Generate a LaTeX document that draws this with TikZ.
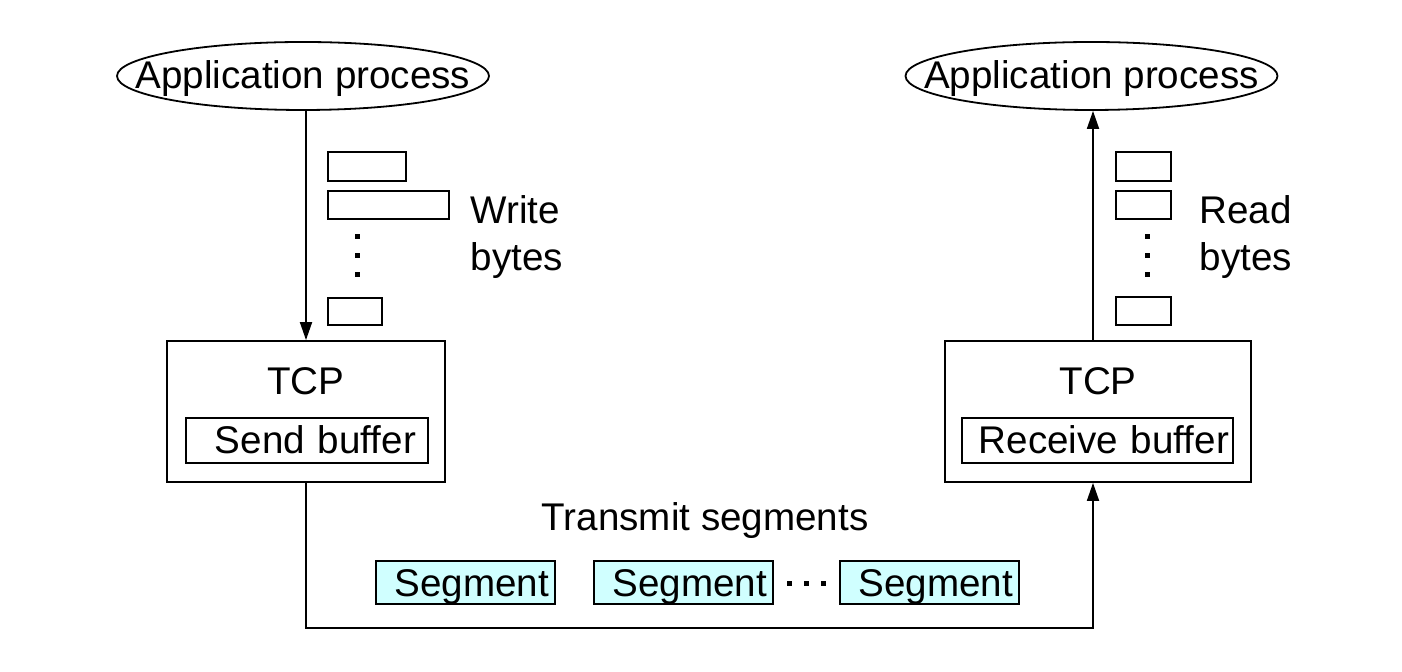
\documentclass[tikz,border=0pt]{standalone}
\usepackage{fontspec}
\setmainfont{Liberation Sans}
\usetikzlibrary{shapes.geometric, arrows.meta, positioning}
\definecolor{segcyan}{RGB}{208,255,255}
\tikzset{
        process/.style={ellipse, draw, minimum width=186pt, minimum height=34pt, inner sep=0pt},
        tcpbox/.style={rectangle, draw, minimum height=70.5pt},
        bufbox/.style={rectangle, draw, minimum height=22.5pt, inner ysep=0pt, text height=15pt, text depth=2pt, align=right},
        bytebox/.style={rectangle, draw, inner sep=0pt},
        segment/.style={rectangle, draw, fill=segcyan, minimum height=21.5pt, text width=83.5pt, text height=16pt, text depth=2pt, inner xsep=3pt, inner ysep=0pt, align=right},
        arrow/.style={-{Triangle[length=9pt, width=6pt]}},
    }
\begin{document}
\begin{tikzpicture}[x=0.5pt, y=-0.5pt, line width=0.9pt, font=\fontsize{19.3}{23.5}\selectfont]
        \useasboundingbox (0,0) rectangle (1402,672);

        % Application processes
        \node[process] (appL) at (303,76) {};
        \node (appLtext) at ([yshift=-1.5pt]appL.center) {Application process};
        \node[process] (appR) at (1091.5,76) {};
        \node (appRtext) at ([yshift=-1.5pt]appR.center) {Application process};

        % TCP boxes with buffers
        \node[tcpbox, minimum width=139pt] (tcpL) at (306,411.5) {};
        \node (tcpLname) at ([yshift=15pt]tcpL.center) {TCP};
        \node[bufbox, text width=109pt, inner xsep=6pt] (sendbuf) at (307,440.5) {Send buffer};
        \node[tcpbox, minimum width=153pt] (tcpR) at (1098,411.5) {};
        \node (tcpRname) at ([yshift=15pt]tcpR.center) {TCP};
        \node[bufbox, text width=131.5pt, inner xsep=2pt] (recvbuf) at (1097.5,440.5) {Receive buffer};

        % Bytes written and read
        \node[bytebox, minimum width=39pt, minimum height=14.5pt] (wb1) at (367,166.5) {};
        \node[bytebox, minimum width=60.5pt, minimum height=14pt] (wb2) at (388.5,205) {};
        \node[bytebox, minimum width=27pt, minimum height=13.5pt] (wb3) at (355,311.5) {};
        \node[bytebox, minimum width=27.5pt, minimum height=14.5pt] (rb1) at (1143.5,166.5) {};
        \node[bytebox, minimum width=27.5pt, minimum height=14pt] (rb2) at (1143.5,205) {};
        \node[bytebox, minimum width=27.5pt, minimum height=14pt] (rb3) at (1143.5,311) {};
        \foreach \y in {237,256,275} {
            \fill (354.5,\y-2.5) rectangle ++(5,5);
            \fill (1144.5,\y-2.5) rectangle ++(5,5);
        }
        \node[anchor=west, align=left] (writelbl) at (463,237) {Write\\bytes};
        \node[anchor=west, align=left] (readlbl) at (1192,237) {Read\\bytes};

        % Segments
        \node (transmit) at (705,521) {Transmit segments};
        \node[segment] (seg1) at (465.5,582.5) {Segment};
        \node[segment] (seg2) at (683.5,582.5) {Segment};
        \node[segment] (seg3) at (929.5,582.5) {Segment};
        \foreach \x in {789,806,823}
            \fill (\x-2.5,581.5) rectangle ++(5,5);

        % Connectors
        \draw[arrow] (appL.south -| tcpL.north) -- (tcpL.north);
        \draw[arrow] ([xshift=-2.5pt]tcpR.north) -- ([xshift=-2.5pt]tcpR.north |- appR.south);
        \draw[arrow] (tcpL.south) -- ++(0,145) -| ([xshift=-2.5pt]tcpR.south);
    \end{tikzpicture}
\end{document}
